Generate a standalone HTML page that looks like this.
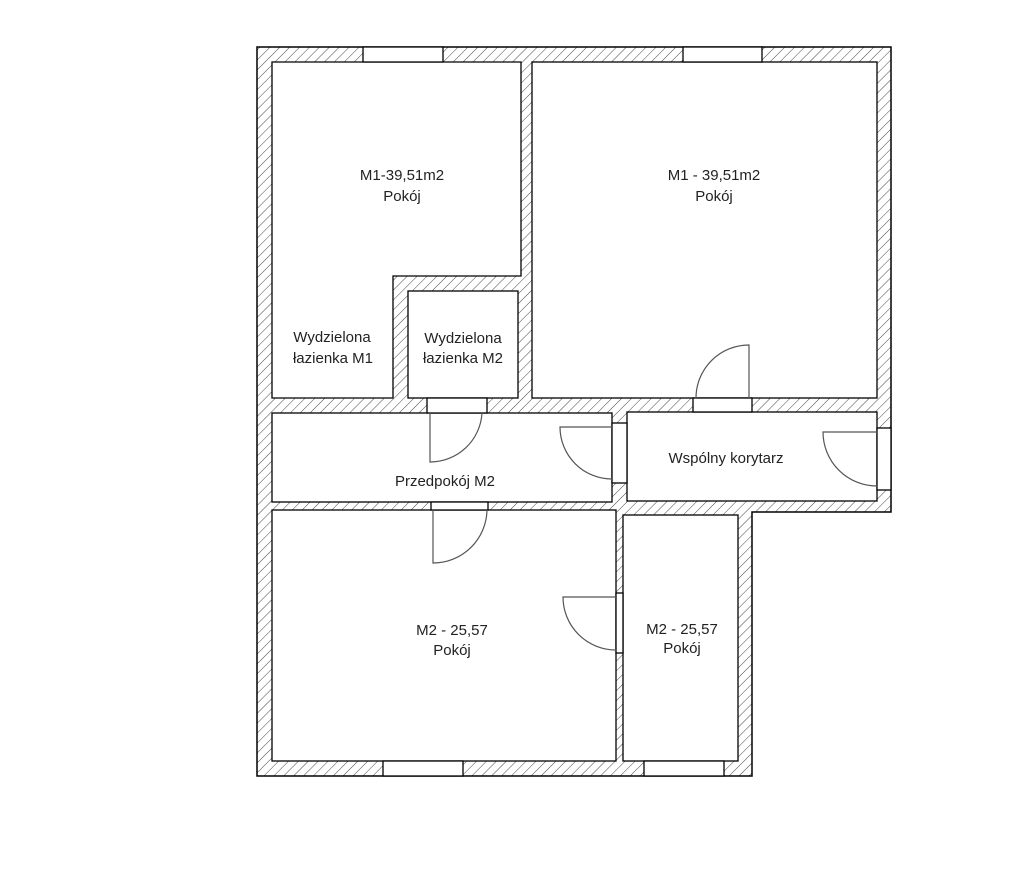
<!DOCTYPE html>
<html><head><meta charset="utf-8"><style>
html,body{margin:0;padding:0;background:#fff;}
svg{display:block}
text{font-family:"Liberation Sans","DejaVu Sans",sans-serif;font-size:15px;fill:#222;text-anchor:middle}
</style></head><body>
<svg width="1021" height="875" viewBox="0 0 1021 875" xmlns="http://www.w3.org/2000/svg">
<defs>
<pattern id="h" patternUnits="userSpaceOnUse" width="7" height="7" patternTransform="rotate(45)">
<line x1="0" y1="0" x2="0" y2="7" stroke="#333" stroke-width="0.9"/>
</pattern>
</defs>
<rect width="1021" height="875" fill="#fff"/>
<polygon points="257,47 891,47 891,512 752,512 752,776 257,776" fill="url(#h)" stroke="#000" stroke-width="1.5"/>
<g fill="#fff" stroke="#000" stroke-width="1.3">
<polygon points="272,62 521,62 521,276 393,276 393,398 272,398"/>
<rect x="532" y="62" width="345" height="336"/>
<rect x="408" y="291" width="110" height="107"/>
<rect x="272" y="413" width="340" height="89"/>
<rect x="627" y="412" width="250" height="89"/>
<rect x="272" y="510" width="344" height="251"/>
<rect x="623" y="515" width="115" height="246"/>
<rect x="363" y="47" width="80" height="15"/>
<rect x="683" y="47" width="79" height="15"/>
<rect x="383" y="761" width="80" height="15"/>
<rect x="644" y="761" width="80" height="15"/>
<rect x="693" y="398" width="59" height="14"/>
<rect x="427" y="398" width="60" height="15"/>
<rect x="612" y="423" width="15" height="60"/>
<rect x="877" y="428" width="14" height="62"/>
<rect x="431" y="502" width="57" height="8"/>
<rect x="616" y="593" width="7" height="60"/>
</g>
<g fill="none" stroke="#555" stroke-width="1.2">
<path d="M749,398 L749,345 A53,53 0 0 0 696,398"/>
<path d="M430,413 L430,462 A52,52 0 0 0 482,413"/>
<path d="M612,427 L560,427 A52,52 0 0 0 612,479"/>
<path d="M877,432 L823,432 A54,54 0 0 0 877,486"/>
<path d="M433,510 L433,563 A54,54 0 0 0 487,510"/>
<path d="M616,597 L563,597 A53,53 0 0 0 616,650"/>
</g>
<text x="402" y="180">M1-39,51m2</text>
<text x="402" y="201">Pokój</text>
<text x="714" y="180">M1 - 39,51m2</text>
<text x="714" y="201">Pokój</text>
<text x="332" y="342">Wydzielona</text>
<text x="333" y="363">łazienka M1</text>
<text x="463" y="343">Wydzielona</text>
<text x="463" y="363">łazienka M2</text>
<text x="445" y="486">Przedpokój M2</text>
<text x="726" y="463">Wspólny korytarz</text>
<text x="452" y="635">M2 - 25,57</text>
<text x="452" y="655">Pokój</text>
<text x="682" y="634">M2 - 25,57</text>
<text x="682" y="653">Pokój</text>
</svg>
</body></html>
